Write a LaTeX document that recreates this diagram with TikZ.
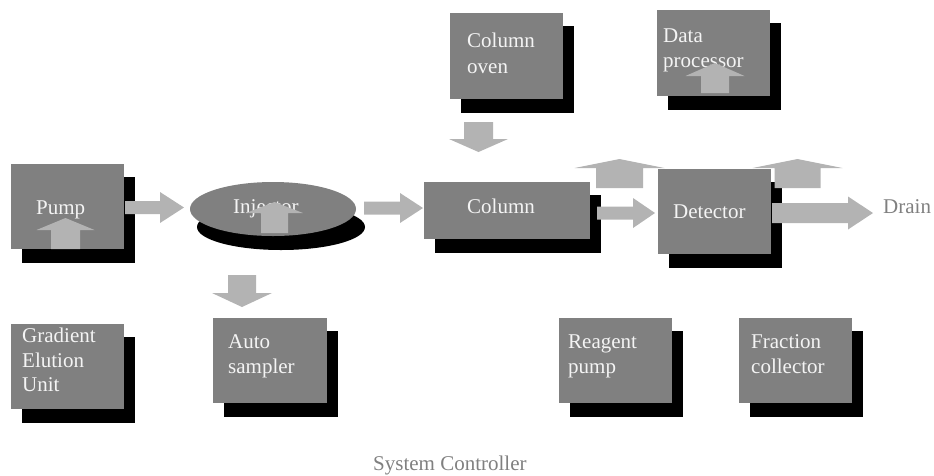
\documentclass[tikz,border=0pt]{standalone}
\usepackage{fontspec}
\setmainfont{Liberation Serif}
\usetikzlibrary{fit,shapes.geometric}
\definecolor{boxgray}{HTML}{808080}
\definecolor{arrgray}{HTML}{B3B3B3}
\definecolor{txtwhite}{HTML}{F4F4F4}
\tikzset{
  box/.style={fill=boxgray, draw=none, inner sep=0pt},
  shd/.style={fill=black},
  arr/.style={fill=arrgray},
  lbl/.style={text=txtwhite, inner sep=0pt, anchor=base west, font=\fontsize{21}{25}\selectfont},
  outlbl/.style={text=boxgray, inner sep=0pt, anchor=base west, font=\fontsize{21}{25}\selectfont},
}
\newcommand\gbox[5]{\fill[shd] (#2+11,#3+13) rectangle (#4+11,#5+14);
  \node[box, fit={(#2,#3) (#4,#5)}] (#1) {};}
% right arrow: x start, head base x, tip x, center y, shaft half, head half
\newcommand\rarr[6]{\fill[arr] (#1,#4-#5) -- (#2,#4-#5) -- (#2,#4-#6) -- (#3,#4) -- (#2,#4+#6) -- (#2,#4+#5) -- (#1,#4+#5) -- cycle;}
% vertical arrow: center x, shaft start y, head base y, tip y, shaft half, head half
\newcommand\varr[6]{\fill[arr] (#1-#5,#2) -- (#1-#5,#3) -- (#1-#6,#3) -- (#1,#4) -- (#1+#6,#3) -- (#1+#5,#3) -- (#1+#5,#2) -- cycle;}
\begin{document}
\begin{tikzpicture}[x=1pt,y=-1pt]
\useasboundingbox (0,0) rectangle (934,475);
% boxes
\gbox{pump}{11}{164}{124}{249}
\gbox{oven}{450}{13}{563}{99}
\gbox{data}{657}{10}{770}{96}
\gbox{column}{424}{182}{590}{239}
\gbox{detector}{658}{169}{771}{254}
\gbox{gradient}{11}{324}{124}{409}
\gbox{auto}{213}{318}{327}{403}
\gbox{reagent}{559}{318}{672}{403}
\gbox{fraction}{739}{318}{852}{403}
% injector
\fill[shd] (281,227) ellipse [x radius=84, y radius=23];
\node[ellipse, box, minimum width=166pt, minimum height=54pt] (injector) at (273,209) {};
% labels
\node[lbl] (tpump) at (36,214) {Pump};
\node[lbl] (tinj) at (233,213) {Injector};
\node[lbl] (toven1) at (467,47) {Column};
\node[lbl] (toven2) at (467,73) {oven};
\node[lbl] (tdata1) at (663,42) {Data};
\node[lbl] (tdata2) at (663,67) {processor};
\node[lbl] (tcol) at (467,213) {Column};
\node[lbl] (tdet) at (673,218) {Detector};
\node[lbl] (tgr1) at (22,342) {Gradient};
\node[lbl] (tgr2) at (22,367) {Elution};
\node[lbl] (tgr3) at (22,391) {Unit};
\node[lbl] (tau1) at (228,348) {Auto};
\node[lbl] (tau2) at (228,373) {sampler};
\node[lbl] (tre1) at (568,348) {Reagent};
\node[lbl] (tre2) at (568,373) {pump};
\node[lbl] (tfr1) at (751,348) {Fraction};
\node[lbl] (tfr2) at (751,373) {collector};
\node[outlbl] (drain) at (883,213) {Drain};
\node[outlbl] (ctrl) at (373,470) {System Controller};
% arrows
\rarr{125}{160}{184}{207.5}{6.5}{15.5}
\rarr{364}{400}{423}{208}{6.5}{15}
\rarr{597}{633}{655}{213}{6.5}{15}
\rarr{772}{848}{873}{213}{10}{16.5}
\varr{478.5}{122}{139}{152}{14.5}{29.5}
\varr{242}{275}{293}{307}{14}{30}
\varr{65.5}{249}{230}{218}{14.5}{29}
\varr{274.5}{233}{213}{202}{13.5}{28.5}
\varr{715}{93}{76}{63}{14}{29.5}
\varr{619.5}{188}{168}{159}{23.5}{45}
\varr{797.5}{188}{168}{159}{23}{45}
\end{tikzpicture}
\end{document}
